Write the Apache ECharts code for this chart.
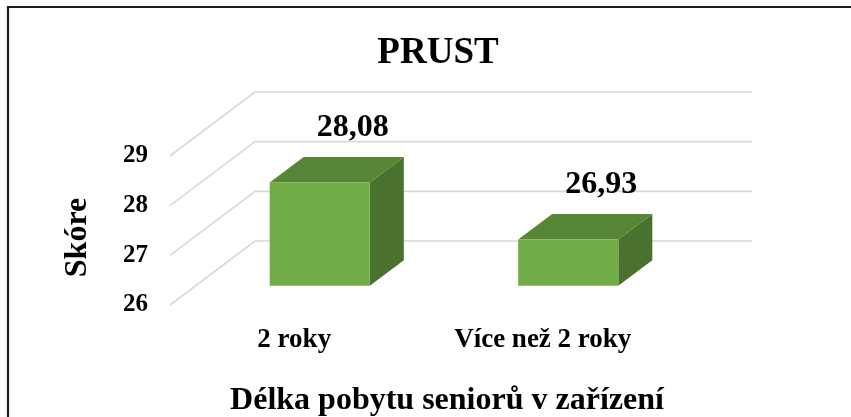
<!DOCTYPE html>
<html>
<head>
<meta charset="utf-8">
<script src="https://cdn.jsdelivr.net/npm/echarts@6/dist/echarts.min.js"></script>
<style>
  html, body { margin: 0; padding: 0; background: #ffffff; }
  #chart { width: 851px; height: 417px; }
</style>
</head>
<body>
<div id="chart"></div>
<script>
  // data
  const categories = ['2 roky', 'Více než 2 roky'];
  const values = [28.08, 26.93];
  const yTicks = [26, 27, 28, 29];
  const yMin = 26, yMax = 29;

  // 3d look: back wall sits this far from the front plane
  const DX = 85, DY = -64;
  const FONT = '"Liberation Serif", "Times New Roman", serif';

  const myChart = echarts.init(document.getElementById('chart'), null, { renderer: 'canvas' });

  /*side + back wall gridlines*/
  function renderGrid(params, api) {
    const cs = params.coordSys;
    const y = api.coord([0, api.value(0)])[1];
    const x0 = cs.x;
    return {
      type: 'polyline',
      shape: { points: [[x0, y], [x0 + DX, y + DY], [x0 + DX + cs.width, y + DY]] },
      style: { stroke: '#d9d9d9', lineWidth: 1.6, fill: null },
      silent: true
    };
  }

  /*3d bars*/
  function renderBar(params, api) {
    const i = api.value(0), v = api.value(1);
    const base = api.coord([i, yMin]);
    const top = api.coord([i, v]);
    const band = api.size([1, 0])[0];
    const bw = band * 0.403;
    const ox = 0.3 * DX, oy = 0.3 * DY;   // front face of bar
    const dx = 0.4 * DX, dy = 0.4 * DY;   // bar depth
    const x1 = base[0] + ox - bw / 2, x2 = x1 + bw;
    const yb = base[1] + oy, yt = top[1] + oy;
    const label = values[i].toFixed(2).replace('.', ',');
    return {
      type: 'group',
      children: [
        { type: 'polygon', shape: { points: [[x2, yt], [x2 + dx, yt + dy], [x2 + dx, yb + dy], [x2, yb]] },
          style: { fill: '#4a722e' } },
        { type: 'polygon', shape: { points: [[x1, yt], [x1 + dx, yt + dy], [x2 + dx, yt + dy], [x2, yt]] },
          style: { fill: '#578637' } },
        { type: 'rect', shape: { x: x1, y: yt, width: bw, height: yb - yt },
          style: { fill: '#70ad47' } },
        { type: 'text', x: (x1 + x2) / 2 + 33, y: yt - 55,
          style: { text: label, font: 'bold 32px ' + FONT, fill: '#000', align: 'center', verticalAlign: 'middle' } }
      ]
    };
  }

  const axisTextFront = { fontFamily: FONT, fontWeight: 'bold', color: '#000' };

  const option = {
    backgroundColor: '#ffffff',
    animation: false,
    title: [
      {
        text: 'PRUST',
        left: 433, top: 30, textAlign: 'center',
        textStyle: { fontFamily: FONT, fontWeight: 'bold', fontSize: 37, color: '#000' }
      },
      {
        text: 'Délka pobytu seniorů v zařízení',
        left: 442, top: 380, textAlign: 'center',
        textStyle: { fontFamily: FONT, fontWeight: 'bold', fontSize: 32, color: '#000' }
      }
    ],
    grid: [
      { left: 170, top: 156, width: 497, height: 149 },   // front plane
      { left: 255, top: 92, width: 497, height: 149 }     // back wall
    ],
    xAxis: [
      {
        gridIndex: 0, type: 'category', data: categories,
        axisLine: { show: false }, axisTick: { show: false },
        axisLabel: Object.assign({ fontSize: 27, margin: 22 }, axisTextFront)
      },
      { gridIndex: 1, type: 'category', data: categories, show: false }
    ],
    yAxis: [
      {
        gridIndex: 0, type: 'value', min: yMin, max: yMax, interval: 1,
        axisLine: { show: false }, axisTick: { show: false }, splitLine: { show: false },
        axisLabel: Object.assign({ fontSize: 25, margin: 22 }, axisTextFront),
        name: 'Skóre', nameLocation: 'middle', nameRotate: 90, nameGap: 76,
        nameTextStyle: { fontFamily: FONT, fontWeight: 'bold', fontSize: 32, color: '#000', padding: [0, 14, 0, 0] }
      },
      { gridIndex: 1, type: 'value', min: yMin, max: yMax, interval: 1, show: false }
    ],
    graphic: [
      {
        type: 'polyline', z: 100,
        shape: { points: [[8, 417], [8, 7], [851, 7]] },
        style: { stroke: '#1e1e1e', lineWidth: 2.2, fill: null }
      }
    ],
    series: [
      {
        type: 'custom', xAxisIndex: 0, yAxisIndex: 0, z: 1,
        renderItem: renderGrid,
        data: yTicks.map(t => [t])
      },
      {
        type: 'custom', xAxisIndex: 0, yAxisIndex: 0, z: 5,
        renderItem: renderBar,
        data: values.map((v, i) => [i, v])
      }
    ]
  };

  myChart.setOption(option);
  window.addEventListener('resize', function() { myChart.resize(); });
</script>
</body>
</html>
